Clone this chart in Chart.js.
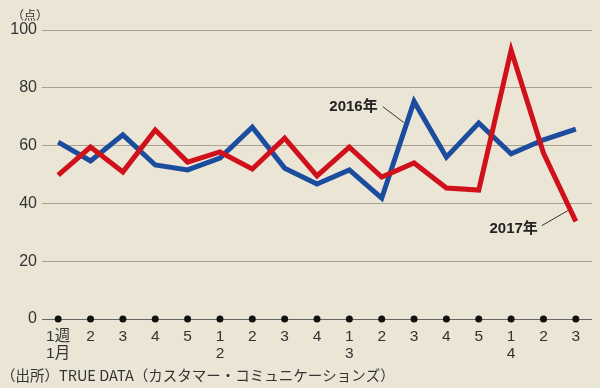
<!DOCTYPE html>
<html>
<head>
<meta charset="utf-8">
<script src="https://cdn.jsdelivr.net/npm/chart.js@4"></script>
<style>
  body { margin: 0; background: #ebe5d6; }
  #wrap { width: 600px; height: 388px; position: relative; }
</style>
</head>
<body>
<div id="wrap"><canvas id="chart"></canvas></div>
<script>
// weeks, Jan - Apr
const weeks = [
    ['1週', '1月'], '2', '3', '4', '5',
    ['1', '2'], '2', '3', '4',
    ['1', '3'], '2', '3', '4', '5',
    ['1', '4'], '2', '3'
];
const sales2016 = [61.2, 54.7, 63.7, 53.3, 51.6, 55.7, 66.4, 52.2, 46.7, 51.6, 41.8, 75.3, 56, 67.8, 57.2, 62, 65.7];
const sales2017 = [49.8, 59.5, 50.9, 65.4, 54.3, 57.8, 51.9, 62.6, 49.5, 59.5, 49.1, 54, 45.3, 44.6, 93, 57.4, 33.8];
const yTicks = [0, 20, 40, 60, 80, 100];

const jpFont = '"Liberation Sans", "Noto Sans CJK JP", sans-serif';
const cjkFont = '"Noto Sans CJK JP", sans-serif';

const extras = {
    id: 'extras',
    afterDatasetsDraw(chart) {
        const ctx = chart.ctx;
        const x = chart.scales.x;
        const y = chart.scales.y;
        const y0 = y.getPixelForValue(0);

        // dots on the axis
        ctx.save();
        ctx.fillStyle = '#111';
        weeks.forEach((w, i) => {
            ctx.beginPath();
            ctx.arc(x.getPixelForValue(i), y0, 3.5, 0, Math.PI * 2);
            ctx.fill();
        });

        // series labels
        ctx.fillStyle = '#222';
        ctx.font = 'bold 15px ' + jpFont;
        ctx.textAlign = 'right';
        ctx.textBaseline = 'middle';
        ctx.fillText('2016年', x.getPixelForValue(10) - 4, y.getPixelForValue(73.5));
        ctx.fillText('2017年', x.getPixelForValue(16) - 38, y.getPixelForValue(31.3));

        ctx.strokeStyle = '#333';
        ctx.lineWidth = 1;
        ctx.beginPath();
        ctx.moveTo(x.getPixelForValue(10) + 1, y.getPixelForValue(73.5));
        ctx.lineTo(x.getPixelForValue(10) + 22, y.getPixelForValue(68));
        ctx.moveTo(x.getPixelForValue(16) - 34, y.getPixelForValue(32.3));
        ctx.lineTo(x.getPixelForValue(16) - 8, y.getPixelForValue(37.5));
        ctx.stroke();

        // unit and source
        ctx.fillStyle = '#333';
        ctx.textAlign = 'left';
        ctx.font = '12px ' + cjkFont;
        ctx.fillText('（点）', 12, 15);
        ctx.font = '14.5px ' + cjkFont;
        ctx.fillText('（出所）TRUE DATA（カスタマー・コミュニケーションズ）', 1, 375);
        ctx.restore();
    }
};

new Chart(document.getElementById('chart'), {
    type: 'line',
    data: {
        labels: weeks,
        datasets: [
            {
                label: '2017年',
                data: sales2017,
                borderColor: '#d0111c',
                borderWidth: 5,
                pointRadius: 0,
                tension: 0,
                borderJoinStyle: 'miter'
            },
            {
                label: '2016年',
                data: sales2016,
                borderColor: '#1c4c9e',
                borderWidth: 5,
                pointRadius: 0,
                tension: 0,
                borderJoinStyle: 'miter'
            }
        ]
    },
    options: {
        responsive: true,
        maintainAspectRatio: false,
        animation: false,
        layout: { padding: { top: 30, right: 8, left: 0, bottom: 0 } },
        plugins: {
            legend: { display: false },
            tooltip: { enabled: false }
        },
        scales: {
            x: {
                offset: true,
                grid: { display: false },
                border: { display: false },
                ticks: {
                    color: '#333',
                    font: { family: jpFont, size: 15.5, lineHeight: 1.1 },
                    padding: 1,
                    maxRotation: 0,
                    autoSkip: false
                },
                afterFit(scale) { scale.height = 69; }
            },
            y: {
                min: 0,
                max: 100,
                afterBuildTicks(scale) { scale.ticks = yTicks.map(v => ({ value: v })); },
                grid: {
                    drawTicks: false,
                    color: ctx => ctx.tick && ctx.tick.value === 0 ? '#666' : '#aaa393',
                    lineWidth: 1
                },
                border: { display: false },
                ticks: {
                    color: '#333',
                    font: { family: jpFont, size: 16 },
                    padding: 5
                },
                afterFit(scale) { scale.width = 42; }
            }
        }
    },
    plugins: [extras]
});
</script>
</body>
</html>
